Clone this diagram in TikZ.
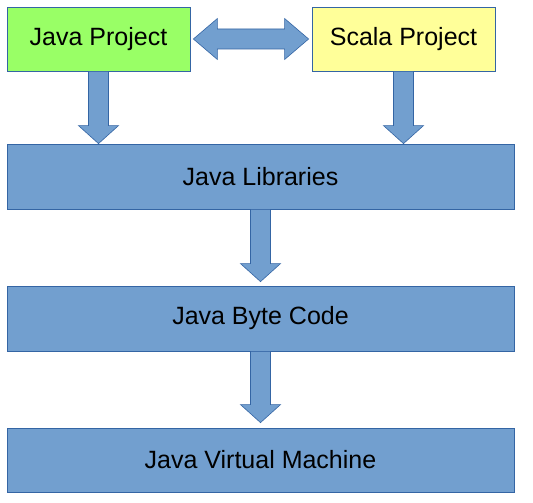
\documentclass[tikz,border=0pt]{standalone}
\usepackage{fontspec}
\setmainfont{Liberation Sans}
\usetikzlibrary{calc}
\definecolor{boxblue}{HTML}{729FCF}
\definecolor{edgeblue}{HTML}{3465A4}
\definecolor{boxgreen}{HTML}{99FF66}
\definecolor{boxyellow}{HTML}{FFFF99}
\tikzset{
  box/.style={draw=edgeblue, line width=0.8pt, inner sep=0pt, font=\fontsize{25}{29}\selectfont, text=black},
  smallbox/.style={box, minimum width=183pt, minimum height=64pt},
  widebox/.style={box, fill=boxblue, minimum width=507pt, minimum height=65pt},
  blk/.style={fill=boxblue, draw=edgeblue, line width=0.6pt, line join=miter},
}
\newcommand\downarr[2]{%
  \draw[blk] ($(#1)+(-10,0)$) -- ($(#2)+(-10,-18)$) -- ($(#2)+(-20,-18)$) -- (#2)
    -- ($(#2)+(20,-18)$) -- ($(#2)+(10,-18)$) -- ($(#1)+(10,0)$) -- cycle;}
\begin{document}
\begin{tikzpicture}[x=1pt,y=-1pt]
\useasboundingbox[fill=white] (0,0) rectangle (533,503);
\node[smallbox, fill=boxgreen] (jp) at (98.5,39) {Java Project};
\node[smallbox, fill=boxyellow] (sp) at (403.5,39) {Scala Project};
\node[widebox] (lib) at (260.5,176.5) {Java Libraries};
\node[widebox] (bc) at (260.5,318.5) {Java Byte Code};
\node[widebox, minimum height=64pt] (jvm) at (260.5,460) {Java Virtual Machine};
% tips
\coordinate (t1) at (jp.south |- lib.north);
\coordinate (t2) at (sp.south |- lib.north);
\coordinate (t3) at ($(bc.north)+(0,-4)$);
\coordinate (t4) at ($(jvm.north)+(0,-5)$);
\coordinate (s1) at ($(jp.south)+(0,0)$);
\coordinate (s2) at ($(sp.south)+(0,0)$);
\downarr{s1}{t1}
\downarr{s2}{t2}
\downarr{lib.south}{t3}
\downarr{bc.south}{t4}
% double arrow
\coordinate (l) at ($(jp.east)+(3,0)$);
\coordinate (r) at ($(sp.west)+(-3,0)$);
\draw[blk] (l) -- ($(l)+(24,-20.5)$) -- ($(l)+(24,-10)$) -- ($(r)+(-24,-10)$) -- ($(r)+(-24,-20.5)$)
  -- (r) -- ($(r)+(-24,20.5)$) -- ($(r)+(-24,10)$) -- ($(l)+(24,10)$) -- ($(l)+(24,20.5)$) -- cycle;
\end{tikzpicture}
\end{document}
